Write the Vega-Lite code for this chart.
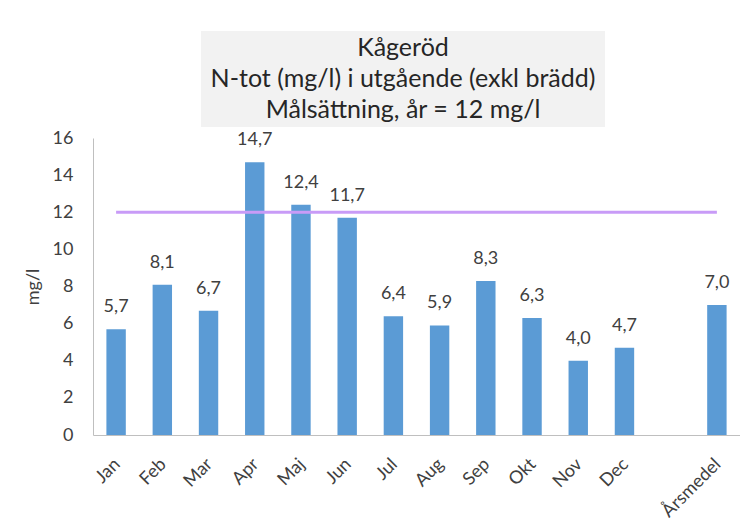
{
  "$schema": "https://vega.github.io/schema/vega-lite/v6.json",
  "background": "white",
  "padding": {"top": 31, "left": 24, "right": 0, "bottom": 0},
  "config": {
    "locale": {"number": {"decimal": ",", "thousands": " ", "grouping": [3], "currency": ["", " kr"]}},
    "font": "Lato",
    "view": {"stroke": null},
    "axisY": {
      "values": [0, 2, 4, 6, 8, 10, 12, 14, 16],
      "labelOverlap": false,
      "labelFontSize": 18,
      "labelColor": "#404040",
      "labelPadding": 20,
      "ticks": false,
      "grid": false,
      "domainColor": "#BFBFBF",
      "domainWidth": 1,
      "titleFontSize": 18,
      "titleFontWeight": "normal",
      "titleColor": "#404040",
      "titlePadding": 10
    }
  },
  "data": {"values": [
    {"month": "Jan", "value": 5.7, "target": 12},
    {"month": "Feb", "value": 8.1, "target": 12},
    {"month": "Mar", "value": 6.7, "target": 12},
    {"month": "Apr", "value": 14.7, "target": 12},
    {"month": "Maj", "value": 12.4, "target": 12},
    {"month": "Jun", "value": 11.7, "target": 12},
    {"month": "Jul", "value": 6.4, "target": 12},
    {"month": "Aug", "value": 5.9, "target": 12},
    {"month": "Sep", "value": 8.3, "target": 12},
    {"month": "Okt", "value": 6.3, "target": 12},
    {"month": "Nov", "value": 4.0, "target": 12},
    {"month": "Dec", "value": 4.7, "target": 12},
    {"month": " ", "value": null, "target": 12},
    {"month": "Årsmedel", "value": 7.0, "target": 12}
  ]},
  "bounds": "full",
  "spacing": 2,
  "vconcat": [
    {
      "bounds": "flush",
      "spacing": 0,
      "hconcat": [
        {
          "width": 108,
          "height": 96,
          "data": {"values": [{}]},
          "mark": {"type": "text"},
          "encoding": {"text": {"value": ""}}
        },
        {
          "width": 404,
          "height": 96,
          "data": {"values": [{}]},
          "view": {"fill": "#F2F2F2", "stroke": null},
          "mark": {"type": "text", "fontSize": 25, "lineHeight": 31, "color": "#262626", "align": "center", "baseline": "middle", "dy": -31},
          "encoding": {"text": {"value": ["Kågeröd", "N-tot (mg/l) i utgående (exkl brädd)", "Målsättning, år = 12 mg/l"]}}
        }
      ]
    },
    {
      "width": 647,
      "height": 297,
      "encoding": {
        "x": {
          "field": "month",
          "type": "nominal",
          "sort": null,
          "scale": {"domain": ["Jan", "Feb", "Mar", "Apr", "Maj", "Jun", "Jul", "Aug", "Sep", "Okt", "Nov", "Dec", " ", "Årsmedel"], "paddingInner": 0.58, "paddingOuter": 0.29},
          "axis": {
            "title": null,
            "labelAngle": -45,
            "labelFontSize": 18,
            "labelColor": "#404040",
            "labelPadding": 20,
            "labelOffset": -5,
            "labelOverlap": false,
            "ticks": false,
            "domainColor": "#BFBFBF",
            "domainWidth": 1
          }
        }
      },
      "layer": [
        {
          "mark": {"type": "bar", "color": "#5B9BD5"},
          "encoding": {
            "y": {
              "field": "value",
              "type": "quantitative",
              "title": "mg/l",
              "scale": {"domain": [0, 16], "nice": false}
            }
          }
        },
        {
          "mark": {"type": "line", "color": "#C89BF7", "strokeWidth": 3},
          "encoding": {"y": {"field": "target", "type": "quantitative", "title": "mg/l"}}
        },
        {
          "mark": {"type": "text", "fontSize": 18, "color": "#404040", "baseline": "alphabetic", "dy": -17},
          "encoding": {
            "y": {"field": "value", "type": "quantitative", "title": "mg/l"},
            "text": {"field": "value", "type": "quantitative", "format": ".1f"}
          }
        }
      ]
    }
  ]
}
